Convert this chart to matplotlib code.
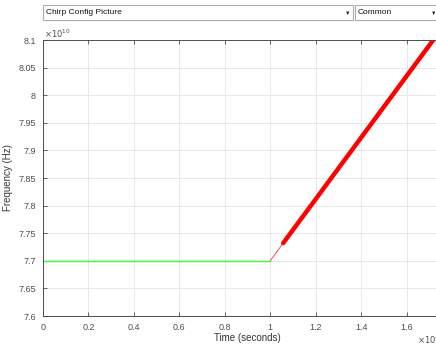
import matplotlib.pyplot as plt
from matplotlib.patches import Rectangle
from matplotlib.ticker import FuncFormatter

# chirp data (time in seconds, frequency in Hz)
idle_t = [0.0, 1.0e-7]
idle_f = [7.7e10, 7.7e10]
start_t = [1.0e-7, 1.057e-7]
start_f = [7.7e10, 7.732e10]
ramp_t = [1.057e-7, 1.8e-7]
ramp_f = [7.732e10, 8.146e10]

xticks = [0, 0.2e-7, 0.4e-7, 0.6e-7, 0.8e-7, 1.0e-7, 1.2e-7, 1.4e-7, 1.6e-7, 1.8e-7]
yticks = [7.6e10, 7.65e10, 7.7e10, 7.75e10, 7.8e10, 7.85e10, 7.9e10, 7.95e10, 8.0e10, 8.05e10, 8.1e10]

plt.rcParams['font.family'] = ['Liberation Sans', 'DejaVu Sans']

W, H = 436, 345
fig = plt.figure(figsize=(W / 100, H / 100), dpi=100)
fig.patch.set_facecolor('white')

# dropdown boxes on top
def box(x0, x1, label):
    fig.patches.append(Rectangle((x0 / W, 1 - 20 / H), (x1 - x0) / W, 15 / H,
                                 transform=fig.transFigure, facecolor='white',
                                 edgecolor='#adadad', linewidth=0.8))
    fig.text((x0 + 3) / W, 1 - 12.5 / H, label, fontsize=6, va='center', color='#111111')

box(43, 353, 'Chirp Config Picture')
box(355, 440, 'Common')
fig.text(348 / W, 1 - 13 / H, '\u25BC', fontsize=4, ha='center', va='center', color='#222222')
fig.text(434 / W, 1 - 13 / H, '\u25BC', fontsize=4, ha='center', va='center', color='#222222')

left, right = 43 / W, 452 / W
bottom, top = 1 - 316 / H, 1 - 40 / H
ax = fig.add_axes([left, bottom, right - left, top - bottom])

ax.plot(idle_t, idle_f, color='#33ff33', linewidth=1.0)
ax.plot(start_t, start_f, color='#ff3030', linewidth=0.6)
ax.plot(ramp_t, ramp_f, color='#ff0000', linewidth=3.2, solid_capstyle='round')

ax.set_xlim(0, 1.8e-7)
ax.set_ylim(7.6e10, 8.1e10)
ax.set_xticks(xticks)
ax.set_yticks(yticks)
ax.xaxis.set_major_formatter(FuncFormatter(lambda v, p: f'{round(v / 1e-7, 3):g}'))
ax.yaxis.set_major_formatter(FuncFormatter(lambda v, p: f'{round(v / 1e10, 3):g}'))

ax.grid(True, color='#e8e8e8', linewidth=0.7)
ax.set_axisbelow(True)
ax.tick_params(direction='in', length=3, width=0.6, labelsize=6.5, colors='#4d4d4d',
               top=True, right=True, pad=5)
for s in ax.spines.values():
    s.set_color('#4d4d4d')
    s.set_linewidth(0.7)

# exponent labels, MATLAB style
fig.text(44 / W, 1 - 34 / H, r'$\times10^{10}$', fontsize=6, color='#4d4d4d', va='center')
fig.text(417 / W, 1 - 340 / H, r'$\times10^{-7}$', fontsize=6, color='#4d4d4d', va='center')

ax.set_xlabel('Time (seconds)', fontsize=7, color='#333333', labelpad=1)
ax.set_ylabel('Frequency (Hz)', fontsize=7, color='#333333')
ax.yaxis.set_label_coords(-30 / 409, 0.5)

fig.savefig('out.png', dpi=100)
